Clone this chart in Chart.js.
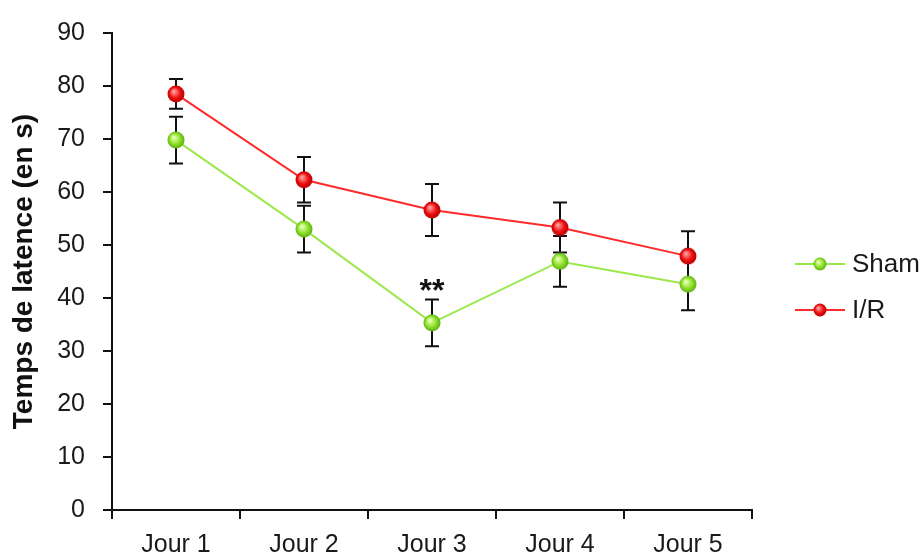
<!DOCTYPE html>
<html>
<head>
<meta charset="utf-8">
<script src="https://cdn.jsdelivr.net/npm/chart.js@4.4.0/dist/chart.umd.min.js"></script>
<style>
    html, body { margin: 0; padding: 0; background: #fff; }
    #wrap { width: 922px; height: 553px; }
</style>
</head>
<body>
<div id="wrap"><canvas id="latencyChart" width="922" height="553"></canvas></div>
<script>
// --- data ---
const days = ['Jour 1', 'Jour 2', 'Jour 3', 'Jour 4', 'Jour 5'];
const shamValues = [69.8, 53.0, 35.3, 46.9, 42.6];
const shamErrors = [4.4, 4.4, 4.4, 4.8, 4.9];
const irValues = [78.5, 62.3, 56.6, 53.3, 47.9];
const irErrors = [2.8, 4.3, 4.9, 4.7, 4.7];
const yTicks = [0, 10, 20, 30, 40, 50, 60, 70, 80, 90];
const starLabels = ['', '', '**', '', ''];

const FONT = '"Liberation Sans", Arial, sans-serif';

// glossy ball used as point marker
function makeBall(r, light, mid, dark) {
    const c = document.createElement('canvas');
    c.width = c.height = r * 2;
    const g = c.getContext('2d');
    const grad = g.createRadialGradient(r * 0.75, r * 0.7, r * 0.1, r, r, r);
    grad.addColorStop(0, light);
    grad.addColorStop(0.55, mid);
    grad.addColorStop(1, dark);
    g.fillStyle = grad;
    g.beginPath();
    g.arc(r, r, r - 0.5, 0, Math.PI * 2);
    g.fill();
    return c;
}

const greenBall = makeBall(9, '#e4ffb0', '#8ee02a', '#5aa812');
const redBall = makeBall(9, '#ff9a9a', '#ee1010', '#b00000');
const greenBallSmall = makeBall(7, '#e4ffb0', '#8ee02a', '#5aa812');
const redBallSmall = makeBall(7, '#ff9a9a', '#ee1010', '#b00000');

// error bars, drawn under the lines and points
const errorBars = {
    id: 'errorBars',
    beforeDatasetsDraw(chart) {
        const ctx = chart.ctx;
        const x = chart.scales.x, y = chart.scales.y;
        const sets = [[shamValues, shamErrors], [irValues, irErrors]];
        ctx.save();
        ctx.strokeStyle = '#111';
        ctx.lineWidth = 2;
        sets.forEach(([vals, errs]) => {
            vals.forEach((v, i) => {
                const px = x.getPixelForValue(i);
                const top = y.getPixelForValue(v + errs[i]);
                const bot = y.getPixelForValue(v - errs[i]);
                ctx.beginPath();
                ctx.moveTo(px, top); ctx.lineTo(px, bot);
                ctx.moveTo(px - 7, top); ctx.lineTo(px + 7, top);
                ctx.moveTo(px - 7, bot); ctx.lineTo(px + 7, bot);
                ctx.stroke();
            });
        });
        ctx.restore();
    }
};

// "**" marks above the Sham bars + the legend on the right
const extras = {
    id: 'extras',
    afterDraw(chart) {
        const ctx = chart.ctx;
        const x = chart.scales.x, y = chart.scales.y;
        ctx.save();
        ctx.fillStyle = '#111';
        ctx.font = 'bold 32px ' + FONT;
        ctx.textAlign = 'center';
        ctx.textBaseline = 'alphabetic';
        starLabels.forEach((s, i) => {
            if (!s) return;
            const px = x.getPixelForValue(i);
            const py = y.getPixelForValue(shamValues[i] + shamErrors[i]);
            ctx.fillText(s, px, py + 1);
        });

        // legend
        const items = [
            { label: 'Sham', color: '#9be84a', ball: greenBallSmall, y: 264 },
            { label: 'I/R', color: '#ff2a2a', ball: redBallSmall, y: 310 }
        ];
        ctx.font = '26px ' + FONT;
        ctx.textAlign = 'left';
        ctx.textBaseline = 'middle';
        items.forEach(it => {
            ctx.strokeStyle = it.color;
            ctx.lineWidth = 2;
            ctx.beginPath();
            ctx.moveTo(795, it.y); ctx.lineTo(845, it.y);
            ctx.stroke();
            ctx.drawImage(it.ball, 820 - it.ball.width / 2, it.y - it.ball.height / 2);
            ctx.fillStyle = '#1a1a1a';
            ctx.fillText(it.label, 852, it.y + 1);
        });
        ctx.restore();
    }
};

new Chart(document.getElementById('latencyChart'), {
    type: 'line',
    data: {
        labels: days,
        datasets: [
            {
                label: 'Sham',
                data: shamValues,
                borderColor: '#9be84a',
                borderWidth: 2,
                pointStyle: greenBall,
                pointRadius: 9,
                tension: 0
            },
            {
                label: 'I/R',
                data: irValues,
                borderColor: '#ff2a2a',
                borderWidth: 2,
                pointStyle: redBall,
                pointRadius: 9,
                tension: 0
            }
        ]
    },
    options: {
        responsive: false,
        animation: false,
        layout: { padding: { top: 25, right: 170, left: 0, bottom: 0 } },
        plugins: {
            legend: { display: false },
            tooltip: { enabled: false }
        },
        scales: {
            x: {
                offset: true,
                afterFit: s => { s.height = 43; },
                grid: { offset: true, drawOnChartArea: false, tickLength: 9, color: '#111', lineWidth: 2 },
                border: { color: '#111', width: 2 },
                ticks: { color: '#1a1a1a', padding: 11, font: { family: FONT, size: 25 }, maxRotation: 0 }
            },
            y: {
                min: 0,
                max: 90,
                afterFit: s => { s.width = 112; },
                afterBuildTicks: s => { s.ticks = yTicks.map(v => ({ value: v })); },
                grid: { drawOnChartArea: false, tickLength: 9, color: '#111', lineWidth: 2 },
                border: { color: '#111', width: 2 },
                ticks: { color: '#1a1a1a', padding: 18, font: { family: FONT, size: 25 } },
                title: {
                    display: true,
                    text: 'Temps de latence (en s)',
                    color: '#111',
                    font: { family: FONT, size: 28, weight: 'bold' },
                    padding: { top: 7, bottom: 0 }
                }
            }
        }
    },
    plugins: [errorBars, extras]
});
</script>
</body>
</html>
